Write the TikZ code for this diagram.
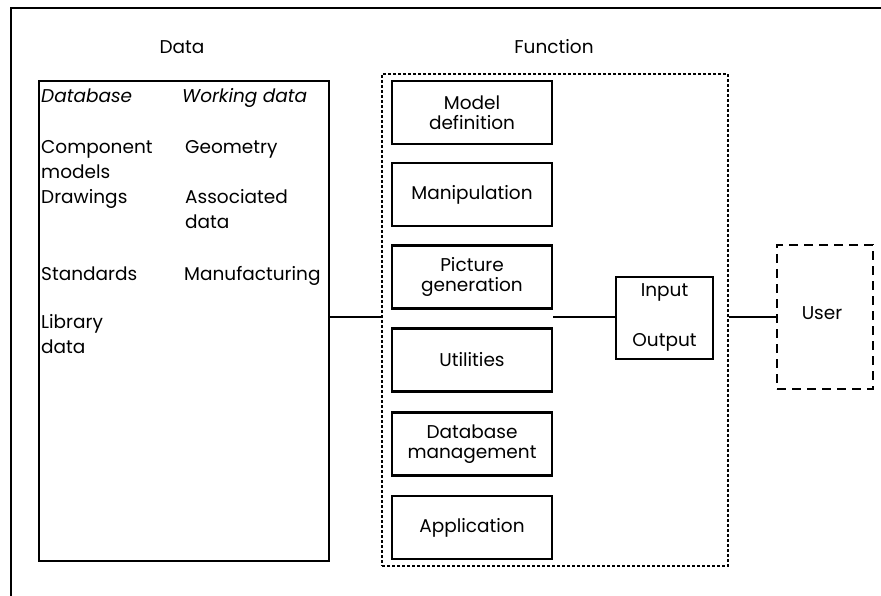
\documentclass[tikz,border=0pt]{standalone}
\usepackage{fontspec}
\setmainfont{Poppins}
\begin{document}
\begin{tikzpicture}[x=1pt,y=-1pt,
  txt/.style={font=\fontsize{18.5}{25}\selectfont, inner sep=0pt, align=left},
  fnbox/.style={draw, line width=2.7pt, minimum width=160pt, minimum height=63pt,
    align=center, inner sep=0pt, font=\fontsize{18.5}{20}\selectfont},
  heading/.style={font=\fontsize{18.5}{22}\selectfont, inner sep=0pt}]
\useasboundingbox (0,0) rectangle (881,596);
% frame
\draw[line width=1.2pt] (11,596) -- (11,8) -- (881,8);
% headings
\node[heading] (hdata) at (182,47) {Data};
\node[heading] (hfunc) at (554,47) {Function};
% data store
\node[draw, line width=2.4pt, minimum width=290pt, minimum height=480pt, inner sep=0pt] (data) at (184,321) {};
\node[txt, anchor=base west] (db) at (41,103) {\itshape Database};
\node[txt, anchor=base west] (wd) at (182,103) {\itshape Working data};
\node[txt, anchor=base west] (cm) at (41,179) {Component\\models};
\node[txt, anchor=base west] (dr) at (41,204) {Drawings};
\node[txt, anchor=base west] (st) at (41,280) {Standards};
\node[txt, anchor=base west] (lb) at (41,353) {Library\\data};
\node[txt, anchor=base west] (ge) at (185,154) {Geometry};
\node[txt, anchor=base west] (as) at (185,229) {Associated\\data};
\node[txt, anchor=base west] (mf) at (184,280) {Manufacturing};
% function group
\node[draw, line width=1.3pt, dash pattern=on 3pt off 2pt, minimum width=346pt, minimum height=492pt, inner sep=0pt] (func) at (555,320) {};
\node[fnbox] (md) at (472,112.5) {Model\\definition};
\node[fnbox] (mp) at (472,194.5) {Manipulation};
\node[fnbox] (pg) at (472,277) {Picture\\generation};
\node[fnbox] (ut) at (472,360) {Utilities};
\node[fnbox] (dm) at (472,444) {Database\\management};
\node[fnbox] (ap) at (472,527.5) {Application};
% input / output
\node[draw, line width=2.7pt, minimum width=97pt, minimum height=82pt, inner sep=0pt] (io) at (664.5,318) {};
\node[heading] (in) at (664.5,292) {Input};
\node[heading] (out) at (664.5,342) {Output};
% user
\node[draw, line width=2.6pt, dash pattern=on 9pt off 6pt, minimum width=96pt, minimum height=144pt, inner sep=0pt] (user) at (825,317) {};
\node[heading] (ul) at (822,313) {User};
% connectors
\coordinate (link) at (0,317);
\draw[line width=2pt] (data.east |- link) -- (func.west |- link);
\draw[line width=2.6pt] (pg.south east |- link) -- (io.west |- link);
\draw[line width=2.6pt] (func.east |- link) -- (user.west |- link);
\end{tikzpicture}
\end{document}
